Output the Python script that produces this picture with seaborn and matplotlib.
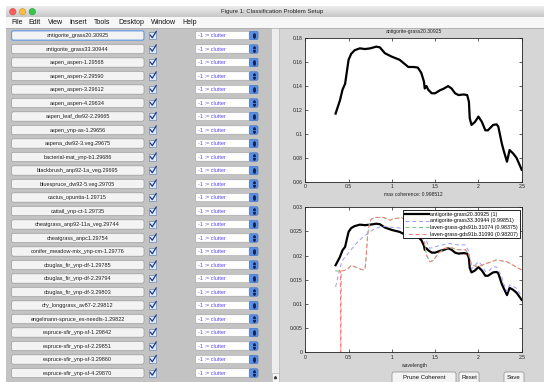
import numpy as np
import matplotlib
matplotlib.use("Agg")
import matplotlib.pyplot as plt
import seaborn as sns
from matplotlib.patches import Rectangle, FancyBboxPatch, Circle
from matplotlib.ticker import FormatStrFormatter

# ---- data ----
window_title = "Figure 1: Classification Problem Setup"
menu_items = ["File", "Edit", "View", "Insert", "Tools", "Desktop", "Window", "Help"]
spectra_names = [
    "antigorite_grass20.30925", "antigorite_grass33.30944", "aspen_aspen-1.29568",
    "aspen_aspen-2.29590", "aspen_aspen-3.29612", "aspen_aspen-4.29634",
    "aspen_leaf_dw92-2.29665", "aspen_ynp-as-1.29656", "aspena_dw92-3.veg.29675",
    "bacterial-mat_ynp-b1.29686", "blackbrush_anp92-1a_veg.29695", "bluespruce_dw92-5.veg.29705",
    "cactus_opuntia-1.29715", "cattail_ynp-ct-1.29735", "cheatgrass_anp92-11a_veg.29744",
    "cheatgrass_anpc1.29754", "conifer_meadow-mix_ynp-cm-1.29776", "douglas_fir_ynp-df-1.29785",
    "douglas_fir_ynp-df-2.29794", "douglas_fir_ynp-df-3.29803", "dry_longgrass_av87-2.29812",
    "engelmann-spruce_es-needls-1.29822", "espruce-sfir_ynp-sf-1.29842", "espruce-sfir_ynp-sf-2.29851",
    "espruce-sfir_ynp-sf-3.29860", "espruce-sfir_ynp-sf-4.29870",
]
class_label = "-1 := clutter"
buttons = ["Prune Coherent", "Reset", "Save"]

# selected spectrum (top plot)
wl_sel = [0.35, 0.40, 0.43, 0.46, 0.48, 0.50, 0.53, 0.57, 0.63, 0.69, 0.75, 0.82, 0.86, 0.92,
          1.00, 1.09, 1.19, 1.25, 1.30, 1.34, 1.37, 1.38, 1.40, 1.42, 1.46, 1.50, 1.56, 1.59,
          1.65, 1.69, 1.73, 1.77, 1.83, 1.87, 1.89, 1.90, 1.92, 1.96, 2.00, 2.04, 2.08, 2.11,
          2.17, 2.21, 2.23, 2.27, 2.29, 2.33, 2.36, 2.40, 2.44, 2.50]
refl_sel = [0.117, 0.128, 0.137, 0.142, 0.152, 0.162, 0.167, 0.170, 0.1716, 0.171, 0.1716, 0.173,
            0.1725, 0.1675, 0.1646, 0.162, 0.156, 0.156, 0.1555, 0.151, 0.144, 0.138, 0.140, 0.137,
            0.134, 0.134, 0.1367, 0.1375, 0.140, 0.138, 0.134, 0.1325, 0.133, 0.1325, 0.127, 0.113,
            0.1075, 0.110, 0.1145, 0.110, 0.103, 0.103, 0.1075, 0.108, 0.106, 0.092, 0.0865, 0.0767,
            0.0865, 0.0837, 0.080, 0.070]
sel_title = "antigorite-grass20.30925"
max_coherence = "0.998512"

# normalised spectra (bottom plot)
refl_sel_norm = [0.0180, 0.0197, 0.0211, 0.0218, 0.0234, 0.0249, 0.0257, 0.0261, 0.0264, 0.0263,
                 0.0264, 0.0266, 0.0265, 0.0258, 0.0253, 0.0249, 0.0240, 0.0240, 0.0239, 0.0232,
                 0.0221, 0.0212, 0.0215, 0.0211, 0.0206, 0.0206, 0.0210, 0.0211, 0.0215, 0.0212,
                 0.0206, 0.0204, 0.0205, 0.0204, 0.0195, 0.0174, 0.0165, 0.0169, 0.0176, 0.0169,
                 0.0158, 0.0158, 0.0165, 0.0166, 0.0163, 0.0141, 0.0133, 0.0118, 0.0133, 0.0129,
                 0.0123, 0.0108]
wl_g33 = [0.35, 0.38, 0.42, 0.45, 0.48, 0.52, 0.555, 0.60, 0.65, 0.70, 0.75, 0.80, 0.86, 0.92,
          0.98, 1.05, 1.13, 1.20, 1.28, 1.34, 1.38, 1.40, 1.44, 1.50, 1.55, 1.59, 1.63, 1.67,
          1.72, 1.77, 1.85, 1.89, 1.92, 1.96, 2.00, 2.04, 2.08, 2.12, 2.17, 2.21, 2.23, 2.27,
          2.29, 2.33, 2.36, 2.40, 2.44, 2.50]
refl_g33 = [0.0135, 0.0158, 0.0187, 0.0195, 0.0201, 0.0210, 0.0218, 0.0227, 0.0236, 0.0243,
            0.0250, 0.0255, 0.0259, 0.0260, 0.0259, 0.0258, 0.0256, 0.0253, 0.0250, 0.0244,
            0.0235, 0.0230, 0.0215, 0.0218, 0.0221, 0.0222, 0.0224, 0.0225, 0.0223, 0.0222,
            0.0222, 0.0208, 0.0172, 0.0180, 0.0187, 0.0180, 0.0167, 0.0168, 0.0177, 0.0176,
            0.0170, 0.0155, 0.0142, 0.0125, 0.0139, 0.0136, 0.0132, 0.0115]
wl_lav74 = [0.35, 0.40, 0.45, 0.49, 0.535, 0.57, 0.62, 0.67, 0.69, 0.70, 0.72, 0.74, 0.76, 0.80,
            0.86, 0.90, 0.94, 0.98, 1.02, 1.06, 1.11, 1.18, 1.25, 1.32, 1.36, 1.38, 1.40, 1.44,
            1.48, 1.54, 1.61, 1.69, 1.77, 1.85, 1.89, 1.92, 2.00, 2.10, 2.21, 2.33, 2.40, 2.50]
refl_lav74 = [0.0168, 0.0168, 0.0169, 0.0172, 0.0180, 0.0177, 0.0173, 0.0170, 0.0173, 0.0190,
              0.0243, 0.0265, 0.0275, 0.0279, 0.0279, 0.0279, 0.0276, 0.0273, 0.0277, 0.0277,
              0.0279, 0.0270, 0.0262, 0.0250, 0.0240, 0.0222, 0.0201, 0.0187, 0.0190, 0.0205,
              0.0215, 0.0216, 0.0212, 0.0212, 0.0201, 0.0180, 0.0177, 0.0184, 0.0191, 0.0187,
              0.0180, 0.0170]
wl_lav90 = [0.35, 0.405, 0.41, 0.415, 0.45, 0.49, 0.535, 0.57, 0.62, 0.67, 0.69, 0.70, 0.72, 0.74,
            0.76, 0.80, 0.86, 0.90, 0.94, 0.98, 1.02, 1.06, 1.11, 1.18, 1.25, 1.32, 1.36, 1.38,
            1.40, 1.44, 1.48, 1.54, 1.61, 1.69, 1.77, 1.85, 1.89, 1.92, 2.00, 2.10, 2.21, 2.33,
            2.40, 2.50]
refl_lav90 = [0.0168, 0.0168, 0.0, 0.0168, 0.0169, 0.0172, 0.0180, 0.0177, 0.0173, 0.0170,
              0.0173, 0.0190, 0.0243, 0.0265, 0.0275, 0.0279, 0.0279, 0.0279, 0.0276, 0.0273,
              0.0277, 0.0277, 0.0279, 0.0270, 0.0262, 0.0250, 0.0240, 0.0222, 0.0201, 0.0187,
              0.0190, 0.0205, 0.0215, 0.0216, 0.0212, 0.0212, 0.0201, 0.0180, 0.0177, 0.0184,
              0.0191, 0.0187, 0.0180, 0.0170]
legend_labels = ["antigorite-grass20.30925 (1)", "antigorite-grass33.30944 (0.99851)",
                 "laven-grass-gds91b.31074 (0.98375)", "laven-grass-gds91b.31090 (0.98207)"]
x_ticks = [0, 0.5, 1, 1.5, 2, 2.5]
y_ticks_top = [0.06, 0.08, 0.10, 0.12, 0.14, 0.16, 0.18]
y_ticks_bot = [0, 0.005, 0.01, 0.015, 0.02, 0.025, 0.03]

plt.rcParams["font.family"] = ["Liberation Sans", "DejaVu Sans"]

W, H = 544, 382
fig = plt.figure(figsize=(W / 100, H / 100), dpi=100)
fig.patch.set_facecolor("white")

# full-figure axes in pixel units for the window chrome
gui = fig.add_axes([0, 0, 1, 1], zorder=0)
gui.set_xlim(0, W)
gui.set_ylim(H, 0)
gui.axis("off")


def px_axes(x0, y0, x1, y1):
    return fig.add_axes([x0 / W, 1 - y1 / H, (x1 - x0) / W, (y1 - y0) / H], zorder=2)


def rbox(x, y, w, h, fc, ec, lw=0.5, r=2.0):
    gui.add_patch(FancyBboxPatch((x, y), w, h, boxstyle=f"round,pad=0,rounding_size={r}",
                                 fc=fc, ec=ec, lw=lw))


# title bar + menu
gui.imshow(np.linspace(0.93, 0.78, 30)[:, None], cmap="gray", vmin=0, vmax=1,
           extent=[6, W, 17, 6], aspect="auto", zorder=1)
gui.text(272, 11.8, window_title, fontsize=4.3, ha="center", va="center", color="#222", zorder=3)
for cx, c, e in [(12.8, "#fc605c", "#c84a45"), (22.6, "#fdbc40", "#c8962e"), (32.3, "#34c84a", "#2a9a3a")]:
    gui.add_patch(Circle((cx, 11.7), 3.2, fc=c, ec=e, lw=0.4, zorder=3))
gui.add_patch(Rectangle((6, 17), W - 6, 11, fc="#f7f7f7", ec="none", zorder=1))
gui.plot([6, W], [28, 28], color="#a8a8a8", lw=0.5, zorder=2)
for x, m in zip([11, 28.5, 48, 69.5, 94, 118, 151, 182], menu_items):
    gui.text(x, 22.5, m, fontsize=5, ha="left", va="center", color="#111", zorder=3)

# panels
gui.add_patch(Rectangle((6, 28.3), 274, H - 28, fc="#c3c3c3", ec="none", zorder=1))
gui.add_patch(Rectangle((280, 28.3), W - 280, H - 28, fc="#d6d6d6", ec="none", zorder=1))

# rows of spectra
for i, name in enumerate(spectra_names):
    yc = 35.5 + 13.5 * i
    ec = "#6d9be0" if i == 0 else "#9a9a9a"
    rbox(11.5, yc - 4.7, 132.5, 9.4, "#f3f3f3", ec, lw=0.9 if i == 0 else 0.5)
    gui.text(77.5, yc + 0.2, name, fontsize=4, ha="center", va="center", color="#222", zorder=3)
    gui.add_patch(Rectangle((149, yc - 3.5), 7, 7, fc="#dfe9f8", ec="#5577aa", lw=0.4, zorder=2))
    gui.plot([150.3, 152.3, 156.2], [yc - 0.3, yc + 2.2, yc - 4.0], color="#1c3a8a", lw=0.9, zorder=3)
    rbox(195.5, yc - 4.2, 62.5, 8.4, "white", "#a0a0a0", lw=0.4, r=1.5)
    gui.text(198.5, yc + 0.2, class_label, fontsize=4, ha="left", va="center", color="#5a48f0", zorder=3)
    rbox(249.2, yc - 4.2, 8.8, 8.4, "#5b8fe2", "#3d6fc8", lw=0.4, r=1.5)
    gui.plot([253.6], [yc - 1.7], marker="^", ms=1.4, color="#0c1f50", zorder=4)
    gui.plot([253.6], [yc + 1.7], marker="v", ms=1.4, color="#0c1f50", zorder=4)

# scrollbar
gui.add_patch(Rectangle((271, 28.3), 8, H - 28, fc="#ededed", ec="#b4b4b4", lw=0.4, zorder=2))
rbox(272.3, 30.5, 5.4, 29, "#6a98e2", "#3f6fc4", lw=0.4, r=2.5)
gui.add_patch(Rectangle((271.5, 372.5), 7, 9.5, fc="#f6f6f6", ec="#aaaaaa", lw=0.4, zorder=3))
gui.plot([275], [376.5], marker="^", ms=1.5, color="#333", zorder=4)

# bottom buttons
for (x0, w), lab in zip([(392, 64), (459, 20), (504, 20)], buttons):
    rbox(x0, 372, w, 14, "#f4f4f4", "#8a8a8a", lw=0.5, r=2)
    gui.text(x0 + w / 2, 377.5, lab, fontsize=4.3, ha="center", va="center", color="#111", zorder=3)


def matlab_style(ax, ylim, yticks):
    ax.set_facecolor("white")
    ax.set_xlim(0, 2.5)
    ax.set_ylim(*ylim)
    ax.set_xticks(x_ticks)
    ax.set_yticks(yticks)
    ax.xaxis.set_major_formatter(FormatStrFormatter("%g"))
    ax.yaxis.set_major_formatter(FormatStrFormatter("%g"))
    ax.tick_params(direction="in", length=2.5, width=0.5, top=True, right=True,
                   labelsize=3.6, pad=2, colors="#222")
    for s in ax.spines.values():
        s.set_linewidth(0.6)
        s.set_color("#222")


ax_top = px_axes(305.3, 38.3, 521.7, 181.7)
sns.lineplot(x=wl_sel, y=refl_sel, ax=ax_top, color="black", linewidth=1.6,
             sort=False, estimator=None)
matlab_style(ax_top, (0.06, 0.18), y_ticks_top)
ax_top.set_title(sel_title, fontsize=3.6, pad=4, color="#222")
ax_top.set_xlabel("max coherence: " + max_coherence, fontsize=3.6, labelpad=1.5, color="#222")

ax_bot = px_axes(305.3, 207.3, 521.7, 352)
dash = (0, (4, 3))
sns.lineplot(x=wl_sel, y=refl_sel_norm, ax=ax_bot, color="black", linewidth=1.6,
             sort=False, estimator=None, label=legend_labels[0])
sns.lineplot(x=wl_g33, y=refl_g33, ax=ax_bot, color="#9a9aff", linewidth=0.7, linestyle=dash,
             sort=False, estimator=None, label=legend_labels[1])
sns.lineplot(x=wl_lav74, y=refl_lav74, ax=ax_bot, color="#78c078", linewidth=0.7, linestyle=dash,
             sort=False, estimator=None, label=legend_labels[2])
sns.lineplot(x=wl_lav90, y=refl_lav90, ax=ax_bot, color="#ff7878", linewidth=0.7,
             linestyle=(3.5, (4, 3)), sort=False, estimator=None, label=legend_labels[3])
matlab_style(ax_bot, (0, 0.03), y_ticks_bot)
ax_bot.set_xlabel("wavelength", fontsize=3.6, labelpad=2.5, color="#222")
leg = ax_bot.legend(loc="upper right", bbox_to_anchor=(0.992, 0.981), fontsize=3.8,
                    frameon=True, fancybox=False, edgecolor="black", framealpha=1,
                    borderpad=0.35, labelspacing=0.3, handlelength=4.5, handletextpad=0.3,
                    borderaxespad=0)
leg.get_frame().set_linewidth(0.6)

fig.savefig("out.png", dpi=100)
